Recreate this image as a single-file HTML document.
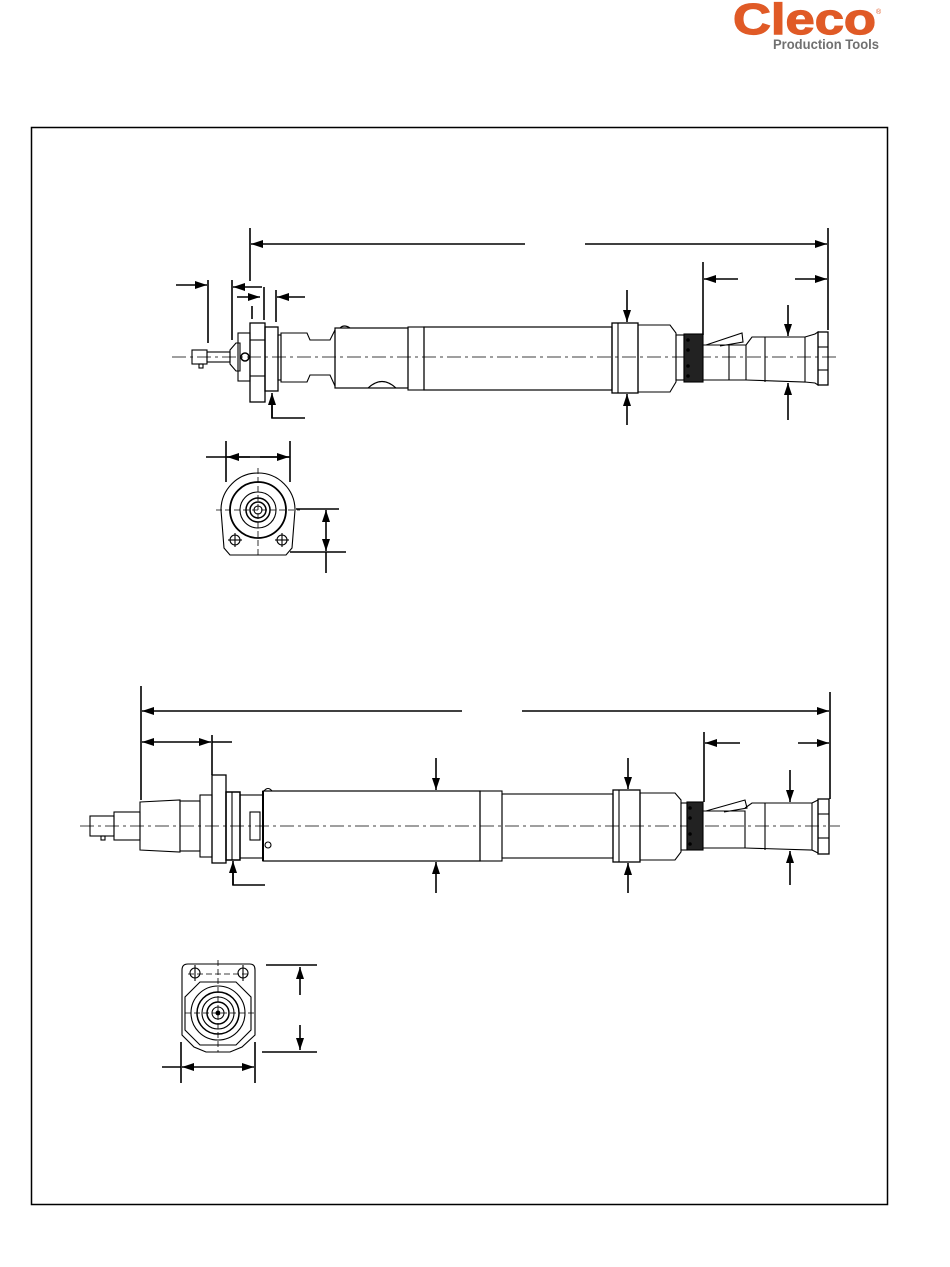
<!DOCTYPE html>
<html><head><meta charset="utf-8"><style>
html,body{margin:0;padding:0;background:#fff;}
svg{display:block}
</style></head><body>
<svg width="950" height="1267" viewBox="0 0 950 1267" xmlns="http://www.w3.org/2000/svg">
<defs>
<marker id="a" viewBox="0 0 12 8" refX="12" refY="4" markerWidth="12" markerHeight="8" markerUnits="userSpaceOnUse" orient="auto"><path d="M0,0 L12,4 L0,8 Z" fill="#000"/></marker>
</defs>
<text x="733" y="34" font-family="Liberation Sans, sans-serif" font-weight="bold" font-size="44" fill="#e05a26" textLength="143" lengthAdjust="spacingAndGlyphs" stroke="#e05a26" stroke-width="1.2">Cleco</text>
<text x="876" y="14" font-family="Liberation Sans, sans-serif" font-size="7" fill="#e05a26">®</text>
<text x="773" y="49" font-family="Liberation Sans, sans-serif" font-weight="bold" font-size="13.5" fill="#707070" textLength="106" lengthAdjust="spacingAndGlyphs">Production Tools</text>
<rect x="31.5" y="127.5" width="856" height="1077" fill="none" stroke="#000" stroke-width="1.5"/>

<g fill="none" stroke="#000" stroke-width="1.1">
<!-- TOP TOOL -->
<line x1="172" y1="357" x2="836" y2="357" stroke-dasharray="14,4,3,4" stroke-width="0.8"/>
<rect x="192" y="350" width="15" height="14"/><rect x="199" y="364" width="4" height="4"/>
<rect x="207" y="352" width="23" height="10"/>
<path d="M230,350 L236,343 L240,343 L240,371 L236,371 L230,364Z"/>
<rect x="238" y="333" width="12" height="48"/>
<circle cx="245" cy="357" r="4" stroke-width="1.5"/>
<rect x="250" y="323" width="15" height="79" stroke-width="1.3"/>
<line x1="250" y1="340" x2="265" y2="340"/><line x1="250" y1="376" x2="265" y2="376"/>
<rect x="265" y="327" width="13" height="64" stroke-width="1.3"/>
<rect x="278" y="335" width="3" height="45"/>
<path d="M281,333 L307,333 L310,340 L330,340 L335,330 L335,386 L330,375 L310,375 L307,382 L281,382Z"/>
<rect x="335" y="328" width="73" height="60" stroke-width="1.2"/>
<path d="M340,328 Q344,324 350,328"/>
<path d="M368,388 Q382,375 396,388"/>
<rect x="408" y="327" width="16" height="63"/>
<rect x="424" y="327" width="188" height="63" stroke-width="1.2"/>
<rect x="612" y="323" width="26" height="70" stroke-width="1.3"/>
<line x1="618" y1="323" x2="618" y2="393"/>
<path d="M638,325 L670,325 L676,333 L676,382 L670,392 L638,392Z"/>
<rect x="676" y="335" width="8" height="45"/>
<rect x="684" y="334" width="19" height="48" fill="#222"/>
<g fill="#000" stroke="none"><circle cx="688" cy="340" r="1.8"/><circle cx="688" cy="350" r="1.8"/><circle cx="688" cy="366" r="1.8"/><circle cx="688" cy="376" r="1.8"/></g>
<path d="M703,345 L746,345 L746,380 L703,380"/>
<path d="M706,345 L742,333 L743,342 L720,346"/>
<line x1="729" y1="345" x2="729" y2="380"/>
<path d="M746,345 L752,337 L805,337 L805,382 L746,380"/>
<line x1="765" y1="337" x2="765" y2="382"/>
<path d="M805,337 L815,334 L818,332 L818,385 L815,383 L805,382"/>
<rect x="818" y="332" width="10" height="53" stroke-width="1.3"/>
<line x1="818" y1="347" x2="828" y2="347"/><line x1="818" y1="370" x2="828" y2="370"/>

<!-- top dims -->
<g stroke-width="1.6">
<line x1="250" y1="228" x2="250" y2="281"/><line x1="828" y1="228" x2="828" y2="330"/>
<line x1="525" y1="244" x2="251" y2="244" marker-end="url(#a)"/>
<line x1="585" y1="244" x2="827" y2="244" marker-end="url(#a)"/>
<line x1="703" y1="262" x2="703" y2="335"/>
<line x1="738" y1="279" x2="704" y2="279" marker-end="url(#a)"/>
<line x1="795" y1="279" x2="827" y2="279" marker-end="url(#a)"/>
<line x1="208" y1="280" x2="208" y2="343"/>
<line x1="176" y1="285" x2="207" y2="285" marker-end="url(#a)"/>
<line x1="232" y1="280" x2="232" y2="340"/>
<line x1="262" y1="287" x2="233" y2="287" marker-end="url(#a)"/>
<line x1="237" y1="297" x2="260" y2="297" marker-end="url(#a)"/>
<line x1="264" y1="287" x2="264" y2="320"/>
<line x1="252" y1="306" x2="252" y2="319"/>
<line x1="276" y1="290" x2="276" y2="322"/>
<line x1="305" y1="297" x2="277" y2="297" marker-end="url(#a)"/>
<polyline points="305,418 272,418 272,398"/>
<line x1="272" y1="418" x2="272" y2="393" marker-end="url(#a)"/>
<line x1="627" y1="290" x2="627" y2="322" marker-end="url(#a)"/>
<line x1="627" y1="425" x2="627" y2="394" marker-end="url(#a)"/>
<line x1="788" y1="305" x2="788" y2="336" marker-end="url(#a)"/>
<line x1="788" y1="420" x2="788" y2="383" marker-end="url(#a)"/>
</g>

<!-- END VIEW 1 -->
<line x1="258" y1="468" x2="258" y2="556" stroke-dasharray="6,3" stroke-width="0.8"/>
<line x1="216" y1="510" x2="300" y2="510" stroke-dasharray="6,3" stroke-width="0.8"/>
<path d="M221,510 A37,37 0 0 1 295,510 L292,548 L286,555 L230,555 L224,548 Z"/>
<circle cx="258" cy="510" r="28" stroke-width="1.8"/>
<circle cx="258" cy="510" r="18"/>
<circle cx="258" cy="510" r="12" stroke-width="1.5"/>
<circle cx="258" cy="510" r="8" stroke-width="1.5"/>
<circle cx="258" cy="510" r="4"/>
<circle cx="235" cy="540" r="5"/><circle cx="282" cy="540" r="5"/>
<line x1="228" y1="540" x2="242" y2="540"/><line x1="235" y1="533" x2="235" y2="547"/>
<line x1="275" y1="540" x2="289" y2="540"/><line x1="282" y1="533" x2="282" y2="547"/>
<g stroke-width="1.6">
<line x1="226" y1="441" x2="226" y2="482"/><line x1="290" y1="441" x2="290" y2="482"/>
<line x1="206" y1="457" x2="290" y2="457"/>
<line x1="250" y1="457" x2="227" y2="457" marker-end="url(#a)"/>
<line x1="260" y1="457" x2="289" y2="457" marker-end="url(#a)"/>
<line x1="296" y1="509" x2="339" y2="509"/><line x1="290" y1="552" x2="346" y2="552"/>
<line x1="326" y1="530" x2="326" y2="510" marker-end="url(#a)"/>
<line x1="326" y1="530" x2="326" y2="551" marker-end="url(#a)"/>
<line x1="326" y1="552" x2="326" y2="573"/>
</g>

<!-- BOTTOM TOOL -->
<line x1="80" y1="826" x2="840" y2="826" stroke-dasharray="14,4,3,4" stroke-width="0.8"/>
<rect x="90" y="816" width="24" height="20"/><rect x="101" y="836" width="4" height="4"/>
<rect x="114" y="812" width="26" height="28"/>
<path d="M140,802 L180,800 L180,852 L140,850Z"/>
<rect x="180" y="801" width="20" height="50"/>
<rect x="200" y="795" width="12" height="62"/>
<rect x="212" y="775" width="14" height="88" stroke-width="1.3"/>
<rect x="226" y="792" width="14" height="68" stroke-width="1.5"/>
<line x1="232" y1="792" x2="232" y2="860"/>
<rect x="240" y="795" width="23" height="63"/>
<rect x="250" y="812" width="10" height="28"/>
<rect x="263" y="791" width="217" height="70" stroke-width="1.2"/>
<line x1="263" y1="791" x2="263" y2="861" stroke-width="2"/>
<circle cx="268" cy="845" r="3"/>
<path d="M264,791 Q268,786 272,791"/>
<rect x="480" y="791" width="22" height="70"/>
<rect x="502" y="794" width="111" height="64"/>
<rect x="613" y="790" width="27" height="72" stroke-width="1.3"/>
<line x1="619" y1="790" x2="619" y2="862"/>
<path d="M640,793 L675,793 L681,800 L681,852 L675,860 L640,860Z"/>
<rect x="681" y="803" width="6" height="47"/>
<rect x="687" y="802" width="16" height="48" fill="#222"/>
<g fill="#000" stroke="none"><circle cx="690" cy="808" r="1.8"/><circle cx="690" cy="818" r="1.8"/><circle cx="690" cy="834" r="1.8"/><circle cx="690" cy="844" r="1.8"/></g>
<path d="M703,811 L745,811 L745,848 L703,848"/>
<path d="M706,811 L745,800 L747,808 L724,812"/>
<path d="M745,808 L752,803 L812,803 L812,850 L745,848"/>
<line x1="765" y1="803" x2="765" y2="850"/>
<path d="M812,803 L818,800 L818,853 L812,850"/>
<rect x="818" y="799" width="11" height="55" stroke-width="1.3"/>
<line x1="818" y1="814" x2="829" y2="814"/><line x1="818" y1="838" x2="829" y2="838"/>

<g stroke-width="1.6">
<line x1="141" y1="686" x2="141" y2="800"/><line x1="830" y1="692" x2="830" y2="799"/>
<line x1="462" y1="711" x2="142" y2="711" marker-end="url(#a)"/>
<line x1="522" y1="711" x2="829" y2="711" marker-end="url(#a)"/>
<line x1="175" y1="742" x2="142" y2="742" marker-end="url(#a)"/>
<line x1="175" y1="742" x2="211" y2="742" marker-end="url(#a)"/>
<line x1="212" y1="742" x2="232" y2="742"/>
<line x1="212" y1="735" x2="212" y2="775"/>
<line x1="704" y1="732" x2="704" y2="802"/>
<line x1="740" y1="743" x2="705" y2="743" marker-end="url(#a)"/>
<line x1="798" y1="743" x2="829" y2="743" marker-end="url(#a)"/>
<line x1="436" y1="758" x2="436" y2="790" marker-end="url(#a)"/>
<line x1="436" y1="893" x2="436" y2="862" marker-end="url(#a)"/>
<line x1="628" y1="758" x2="628" y2="789" marker-end="url(#a)"/>
<line x1="628" y1="893" x2="628" y2="863" marker-end="url(#a)"/>
<line x1="790" y1="770" x2="790" y2="802" marker-end="url(#a)"/>
<line x1="790" y1="885" x2="790" y2="851" marker-end="url(#a)"/>
<polyline points="265,885 233,885 233,870"/>
<line x1="233" y1="885" x2="233" y2="861" marker-end="url(#a)"/>
</g>

<!-- END VIEW 2 -->
<line x1="218" y1="960" x2="218" y2="1052" stroke-dasharray="6,3" stroke-width="0.8"/>
<line x1="185" y1="1013" x2="255" y2="1013" stroke-dasharray="6,3" stroke-width="0.8"/>
<line x1="188" y1="974" x2="250" y2="974" stroke-dasharray="6,3" stroke-width="0.8"/>
<path d="M188,964 L250,964 Q255,964 255,970 L255,1035 L242,1047 L230,1052 L206,1052 L194,1047 L182,1035 L182,970 Q182,964 188,964Z"/>
<polygon points="200,982 236,982 251,997 251,1030 236,1045 200,1045 185,1030 185,997"/>
<circle cx="218" cy="1013" r="27"/>
<circle cx="218" cy="1013" r="21" stroke-width="1.5"/>
<circle cx="218" cy="1013" r="16"/>
<circle cx="218" cy="1013" r="11" stroke-width="1.5"/>
<circle cx="218" cy="1013" r="6"/>
<circle cx="218" cy="1013" r="2" fill="#000"/>
<circle cx="195" cy="973" r="5"/><circle cx="243" cy="973" r="5"/>
<line x1="195" y1="965" x2="195" y2="981"/><line x1="243" y1="965" x2="243" y2="981"/>
<g stroke-width="1.6">
<line x1="266" y1="965" x2="317" y2="965"/><line x1="262" y1="1052" x2="317" y2="1052"/>
<line x1="300" y1="995" x2="300" y2="967" marker-end="url(#a)"/>
<line x1="300" y1="1025" x2="300" y2="1050" marker-end="url(#a)"/>
<line x1="181" y1="1042" x2="181" y2="1083"/><line x1="255" y1="1042" x2="255" y2="1083"/>
<line x1="162" y1="1067" x2="181" y2="1067"/>
<line x1="215" y1="1067" x2="182" y2="1067" marker-end="url(#a)"/>
<line x1="215" y1="1067" x2="254" y2="1067" marker-end="url(#a)"/>
</g>
</g>
</svg>
</body></html>
